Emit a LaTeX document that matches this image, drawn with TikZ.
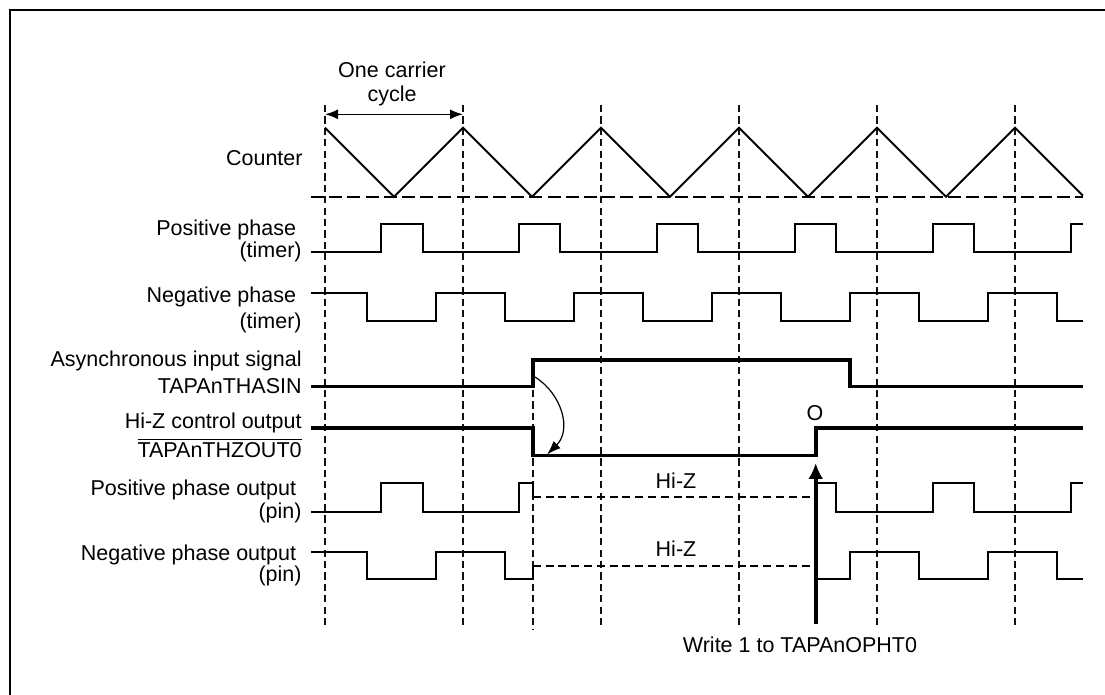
\documentclass[tikz,border=0pt]{standalone}
\usepackage{fontspec}
\setmainfont{Liberation Sans}
\usetikzlibrary{arrows.meta}
\definecolor{lineInk}{HTML}{000000}
\definecolor{gridInk}{HTML}{111111}

\begin{document}
\begin{tikzpicture}[x=0.5pt,y=-0.5pt,
    every node/.style={inner sep=0pt,font=\fontsize{10.75pt}{11.7pt}\selectfont,
                       text=lineInk},
    lbl/.style={anchor=base east},
    wave/.style={draw=lineInk,line width=1pt},
    ctrl/.style={draw=lineInk,line width=1.8pt},
    hizline/.style={draw=lineInk,line width=1pt,dash pattern=on 4pt off 2.4pt},
    gridline/.style={draw=gridInk,line width=0.75pt,dash pattern=on 3.6pt off 2.1pt},
    zeroline/.style={draw=lineInk,line width=1.1pt,dash pattern=on 6.5pt off 2.6pt}]
  \useasboundingbox (0,0) rectangle (1105,695);
  % frame, cut at the right and bottom edges
  \draw[lineInk,line width=1pt] (9.6,695) -- (9.6,10) -- (1105,10);

  % carrier grid
  \draw[gridline] (325,105) -- (325,628);
  \draw[gridline] (463,105) -- (463,628);
  \draw[gridline] (601,105) -- (601,628);
  \draw[gridline] (739,105) -- (739,628);
  \draw[gridline] (877,105) -- (877,628);
  \draw[gridline] (1015,105) -- (1015,628);
  \draw[gridline] (533,390) -- (533,630);

  % one carrier cycle
  \node[align=center] (cycTxt) at (392,84) {One carrier\\cycle};
  \coordinate (cycA) at (325,114.3);
  \coordinate (cycB) at (463,114.3);
  \draw[lineInk,line width=0.75pt,{Latex[length=6.5pt,width=5pt]}-{Latex[length=6.5pt,width=5pt]}]
        (cycA) -- (cycB);

  % labels
  \node[lbl] (cntLbl) at (303,165.5) {Counter};
  \node[lbl] (ptmrA) at (296.5,235.5) {Positive phase};
  \node[lbl] (ptmrB) at (302,257.5) {(timer)};
  \node[lbl] (ntmrA) at (296.5,302.5) {Negative phase};
  \node[lbl] (ntmrB) at (302,328.5) {(timer)};
  \node[lbl] (asynA) at (302,366.5) {Asynchronous input signal};
  \node[lbl] (asynB) at (302,394) {TAPAnTHASIN};
  \node[lbl] (hizA) at (302,429) {Hi-Z control output};
  \node[lbl] (hizB) at (302,457.5) {$\overline{\mbox{TAPAnTHZOUT0}}$};
  \node[lbl] (poutA) at (296.5,495.5) {Positive phase output};
  \node[lbl] (poutB) at (302,518.5) {(pin)};
  \node[lbl] (noutA) at (296.5,560.5) {Negative phase output};
  \node[lbl] (noutB) at (302,582) {(pin)};

  % counter
  \draw[zeroline] (311,196.7) -- (1083,196.7);
  \draw[wave] (325,127.7) -- (394,196.7) -- (463,127.7) -- (532,196.7) -- (601,127.7)
        -- (670,196.7) -- (739,127.7) -- (808,196.7) -- (877,127.7) -- (946,196.7)
        -- (1015,127.7) -- (1083,195.7);

  % positive / negative phase (timer)
  \draw[wave] (311,251.7) -| (381,224) -| (423,251.7) -| (519,224) -| (560,251.7)
        -| (657,224) -| (698,251.7) -| (795,224) -| (836,251.7) -| (933,224)
        -| (974,251.7) -| (1071,224) -- (1083,224);
  \draw[wave] (311,292.7) -| (367,320.7) -| (436,292.7) -| (505,320.7) -| (574,292.7)
        -| (643,320.7) -| (712,292.7) -| (781,320.7) -| (850,292.7) -| (919,320.7)
        -| (988,292.7) -| (1057,320.7) -- (1083,320.7);

  % asynchronous input and Hi-Z control
  \draw[ctrl] (311,386.7) -| (532.7,360) -| (850,386.7) -- (1083,386.7);
  \draw[ctrl] (311,428.3) -| (532.7,455.7) -| (815.7,428.3) -- (1083,428.3);
  \node (oMark) at (815,413.3) {O};
  \coordinate (asynEdge) at (535,377);
  \coordinate (hizEdge) at (547,454.5);
  \draw[lineInk,line width=0.6pt,-{Latex[length=7pt,width=5pt]}]
        (asynEdge) .. controls (562,394) and (572,430) .. (hizEdge);

  % outputs (pin)
  \draw[wave] (311,511.7) -| (381,482.7) -| (423,511.7) -| (519,482.7) -| (532.7,496.7);
  \draw[hizline] (532.7,496.7) -- (815.7,496.7);
  \draw[wave] (815.7,482.7) -| (836,511.7) -| (933,482.7) -| (974,511.7) -| (1071,482.7)
        -- (1083,482.7);
  \draw[wave] (311,551.7) -| (367,579) -| (436,551.7) -| (505,579) -| (532.7,565.7);
  \draw[hizline] (532.7,565.7) -- (815.7,565.7);
  \draw[wave] (815.7,579) -| (850,551.7) -| (919,579) -| (988,551.7) -| (1057,579)
        -- (1083,579);
  \node (hizTxtP) at (676,480.7) {Hi-Z};
  \node (hizTxtN) at (676,548.3) {Hi-Z};

  % write trigger
  \coordinate (wrBase) at (815.7,624);
  \coordinate (wrTip) at (815.7,463);
  \draw[lineInk,line width=1.8pt,-{Latex[length=8pt,width=7.5pt]}] (wrBase) -- (wrTip);
  \node (wrTxt) at (800,644.7) {Write 1 to TAPAnOPHT0};
\end{tikzpicture}
\end{document}
